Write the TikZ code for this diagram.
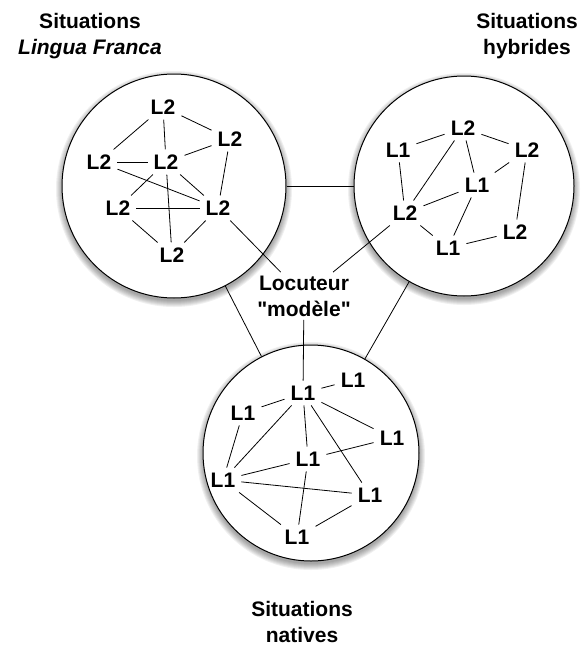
\documentclass[tikz,border=0pt]{standalone}
\usepackage{fontspec}
\setmainfont{Liberation Sans}[Ligatures=TeXOff]
\usepackage{tikz}

\tikzset{
  situation/.style={circle,draw,line width=1pt,fill=white,minimum size=#1,inner sep=0pt},
  spk/.style={inner xsep=6pt,inner ysep=5pt,font=\fontsize{21}{26}\selectfont\bfseries},
  title/.style={align=center,font=\fontsize{21}{26}\selectfont\bfseries},
  lien/.style={line width=0.8pt}
}

\begin{document}
\begin{tikzpicture}[x=1pt,y=-1pt]
		\useasboundingbox (0,0) rectangle (584,648);

		% ombres floues
		\foreach \cx/\cy/\r in {174/186/112, 464/186/110, 311/453/108}
			\foreach \k in {0,...,6}
				\fill[black,opacity=0.06] (\cx,\cy+3) circle[radius={(\r+\k)*1pt}];

		\node[situation=224pt] (lf) at (174,186) {};
		\node[situation=220pt] (hy) at (464,186) {};
		\node[situation=216pt] (na) at (311,453) {};

		\draw[lien] (lf) -- (hy);
		\draw[lien] (lf) -- (na);
		\draw[lien] (hy) -- (na);

		\node[title] (tlf) at (90,36) {Situations\\\textit{Lingua Franca}};
		\node[title] (thy) at (527,36) {Situations\\hybrides};
		\node[title] (tna) at (302,622) {Situations\\natives};
		\node[title] (loc) at (304,296) {Locuteur\\"modèle"};

		\node[spk] (lfa) at (163,107) {L2};
		\node[spk] (lfb) at (230,139) {L2};
		\node[spk] (lfc) at (99,162) {L2};
		\node[spk] (lfd) at (166,162) {L2};
		\node[spk] (lfe) at (118,208) {L2};
		\node[spk] (lff) at (218,208) {L2};
		\node[spk] (lfg) at (172,255) {L2};

		\draw[lien] (lfa) -- (lfc);
		\draw[lien] (lfa) -- (lfd);
		\draw[lien] (lfa) -- (lfb);
		\draw[lien] (lfb) -- (lfd);
		\draw[lien] (lfb) -- (lff);
		\draw[lien] (lfc) -- (lfd);
		\draw[lien] (lfc) -- (lff);
		\draw[lien] (lfd) -- (lfe);
		\draw[lien] (lfd) -- (lff);
		\draw[lien] (lfd) -- (lfg);
		\draw[lien] (lfe) -- (lff);
		\draw[lien] (lfe) -- (lfg);
		\draw[lien] (lff) -- (lfg);
		\draw[lien] (lff) -- (loc);

		\node[spk] (hya) at (463,128) {L2};
		\node[spk] (hyb) at (398,150) {L1};
		\node[spk] (hyc) at (527,150) {L2};
		\node[spk] (hyd) at (477,185) {L1};
		\node[spk] (hye) at (405,213) {L2};
		\node[spk] (hyf) at (448,248) {L1};
		\node[spk] (hyg) at (515,232) {L2};

		\draw[lien] (hyb) -- (hya);
		\draw[lien] (hya) -- (hyc);
		\draw[lien] (hya) -- (hyd);
		\draw[lien] (hya) -- (hye);
		\draw[lien] (hyb) -- (hye);
		\draw[lien] (hyc) -- (hyd);
		\draw[lien] (hyc) -- (hyg);
		\draw[lien] (hyd) -- (hye);
		\draw[lien] (hyd) -- (hyf);
		\draw[lien] (hye) -- (hyf);
		\draw[lien] (hyf) -- (hyg);
		\draw[lien] (hye) -- (loc);

		\node[spk] (naa) at (303,393) {L1};
		\node[spk] (nab) at (353,380) {L1};
		\node[spk] (nac) at (243,413) {L1};
		\node[spk] (nad) at (392,438) {L1};
		\node[spk] (nae) at (308,459) {L1};
		\node[spk] (naf) at (223,480) {L1};
		\node[spk] (nag) at (370,495) {L1};
		\node[spk] (nah) at (297,537) {L1};

		\draw[lien] (naa) -- (nab);
		\draw[lien] (naa) -- (nac);
		\draw[lien] (naa) -- (nad);
		\draw[lien] (naa) -- (nae);
		\draw[lien] (naa) -- (nag);
		\draw[lien] (naa) -- (naf);
		\draw[lien] (nac) -- (naf);
		\draw[lien] (nae) -- (nad);
		\draw[lien] (nae) -- (naf);
		\draw[lien] (nae) -- (nah);
		\draw[lien] (naf) -- (nag);
		\draw[lien] (naf) -- (nah);
		\draw[lien] (nag) -- (nah);
		\draw[lien] (loc) -- (naa);
	\end{tikzpicture}
\end{document}
